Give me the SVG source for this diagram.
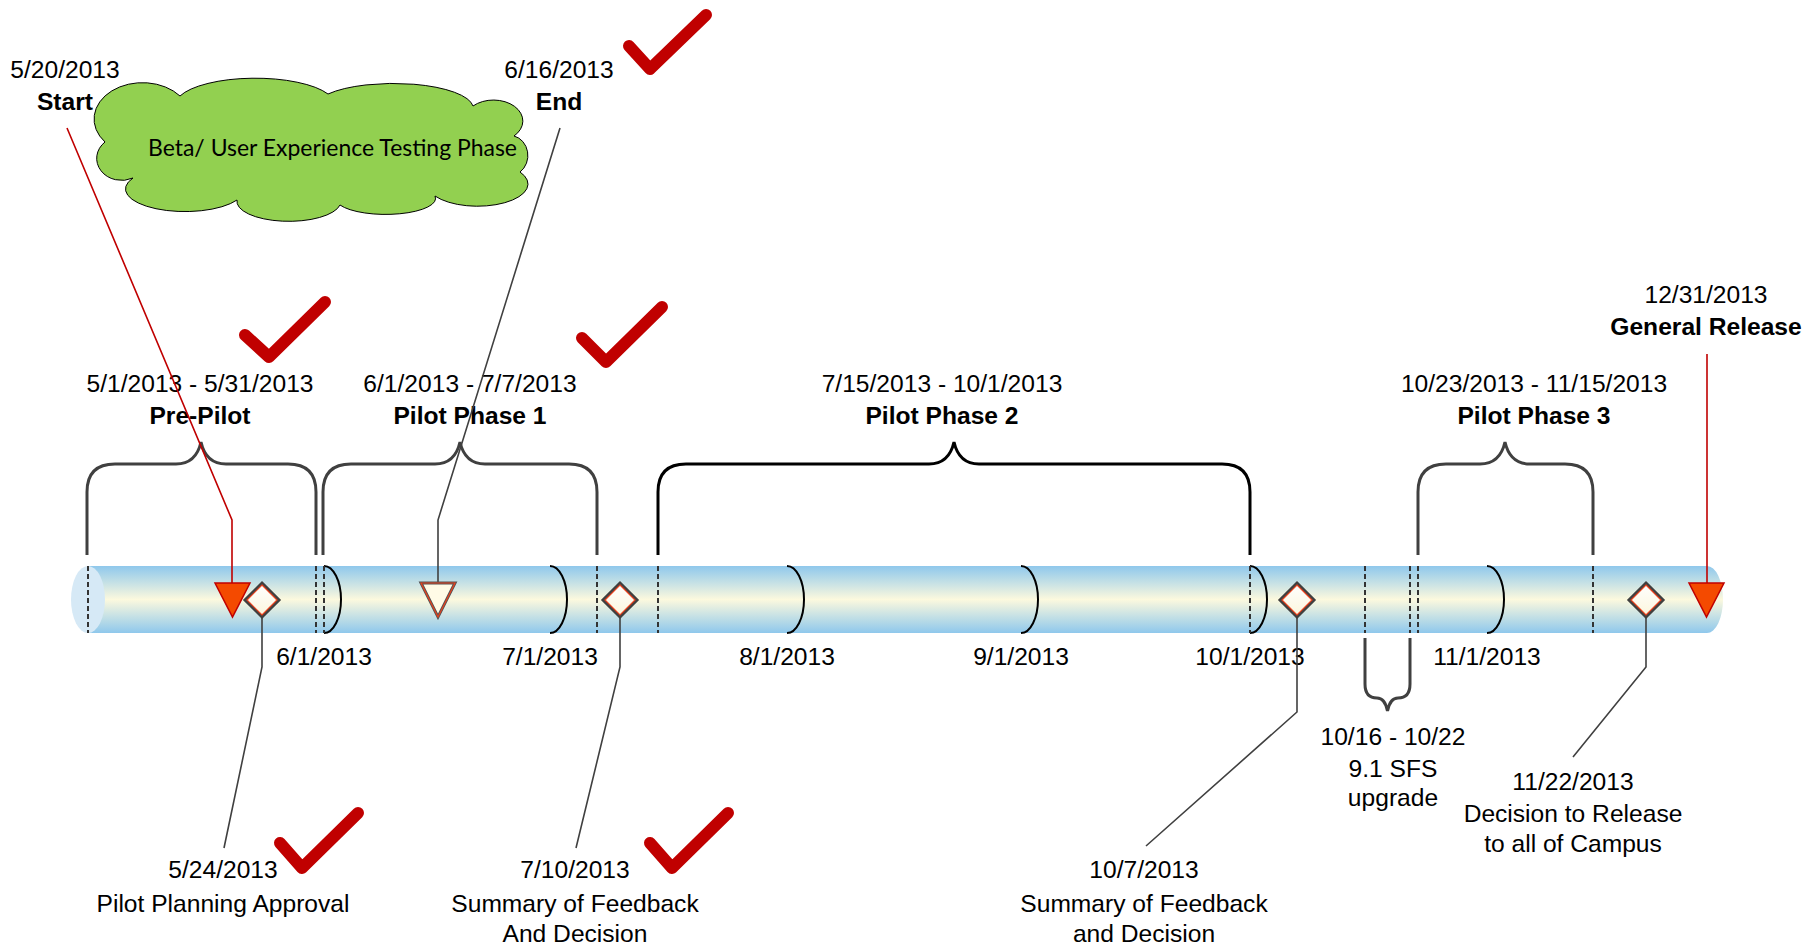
<svg xmlns="http://www.w3.org/2000/svg" width="1820" height="945" viewBox="0 0 1820 945">
<defs>
<linearGradient id="barGrad" x1="0" y1="0" x2="0" y2="1">
<stop offset="0" stop-color="#8fc8ec"/>
<stop offset="0.5" stop-color="#fcf9de"/>
<stop offset="1" stop-color="#8fc8ec"/>
</linearGradient>
<linearGradient id="diaGrad" x1="0" y1="0" x2="0" y2="1">
<stop offset="0" stop-color="#ffffff"/>
<stop offset="1" stop-color="#fbf6dc"/>
</linearGradient>
</defs>
<style>
text{font-family:"Liberation Sans",Arial,sans-serif;font-size:24.6px;fill:#000;text-anchor:middle}
.b{font-weight:bold}
.cloudtxt{font-family:Lato,"Open Sans",sans-serif;font-size:22.5px;text-anchor:start}
.brace{fill:none;stroke:#404040;stroke-width:3}
.brace2{fill:none;stroke:#000;stroke-width:3}
.dash{stroke:#333;stroke-width:2;stroke-dasharray:5 3;fill:none}
.month{fill:none;stroke:#000;stroke-width:2}
.lead{fill:none;stroke:#404040;stroke-width:1.6}
.leadr{fill:none;stroke:#c00000;stroke-width:1.6}
.check{fill:none;stroke:#c00000;stroke-width:12;stroke-linecap:round;stroke-linejoin:round}
.dia{fill:url(#diaGrad);stroke:#404040;stroke-width:3}
.diain{fill:none;stroke:#e8401c;stroke-width:1.2}
.tri{fill:#f44a00;stroke:#c00000;stroke-width:1.5}
</style>

<g id="cloud">
<path d="M105 142 A48 36 0 0 1 180 96 A80 27 0 0 1 328 94 A80 25 0 0 1 473 106 A28 20 0 0 1 514 136 A18 20 0 0 1 520 172 A50 22 0 0 1 435 196 A50 16 0 0 1 340 205 A52 20 0 0 1 237 200 A58 22 0 0 1 133 178 A25 22 0 0 1 105 142 Z" fill="#92d050" stroke="#000" stroke-width="1"/>
<text class="cloudtxt" x="148" y="156" textLength="369" lengthAdjust="spacingAndGlyphs">Beta/ User Experience Testing Phase</text>
</g>

<g id="timeline-bar">
<path d="M88 566 H1707 A16 33.5 0 0 1 1707 633 H88 Z" fill="url(#barGrad)"/>
<ellipse cx="88" cy="599.5" rx="17" ry="33.5" fill="#d6e9f6"/>
<line class="dash" x1="88" y1="566" x2="88" y2="633"/>
</g>

<g id="month-dividers">
<path class="month" d="M324 566 A17 33.5 0 0 1 324 633"/>
<path class="month" d="M550 566 A17 33.5 0 0 1 550 633"/>
<path class="month" d="M787 566 A17 33.5 0 0 1 787 633"/>
<path class="month" d="M1021 566 A17 33.5 0 0 1 1021 633"/>
<path class="month" d="M1250 566 A17 33.5 0 0 1 1250 633"/>
<path class="month" d="M1487 566 A17 33.5 0 0 1 1487 633"/>
<text x="324" y="665">6/1/2013</text>
<text x="550" y="665">7/1/2013</text>
<text x="787" y="665">8/1/2013</text>
<text x="1021" y="665">9/1/2013</text>
<text x="1250" y="665">10/1/2013</text>
<text x="1487" y="665">11/1/2013</text>
</g>

<g id="phase-dividers">
<line class="dash" x1="316" y1="566" x2="316" y2="633"/>
<line class="dash" x1="324" y1="566" x2="324" y2="633"/>
<line class="dash" x1="597" y1="566" x2="597" y2="633"/>
<line class="dash" x1="658" y1="566" x2="658" y2="633"/>
<line class="dash" x1="1250" y1="566" x2="1250" y2="633"/>
<line class="dash" x1="1365" y1="566" x2="1365" y2="633"/>
<line class="dash" x1="1410" y1="566" x2="1410" y2="633"/>
<line class="dash" x1="1418" y1="566" x2="1418" y2="633"/>
<line class="dash" x1="1593" y1="566" x2="1593" y2="633"/>
</g>

<g id="pre-pilot">
<path class="brace" d="M87 555 V492 Q87 464 115 464 H176 Q196 464 201 442 Q206 464 226 464 H288 Q316 464 316 492 V555"/>
<text x="200" y="392">5/1/2013 - 5/31/2013</text>
<text class="b" x="200" y="424">Pre-Pilot</text>
</g>

<g id="pilot-phase-1">
<path class="brace" d="M323 555 V492 Q323 464 351 464 H435 Q455 464 460 442 Q465 464 485 464 H569 Q597 464 597 492 V555"/>
<text x="470" y="392">6/1/2013 - 7/7/2013</text>
<text class="b" x="470" y="424">Pilot Phase 1</text>
</g>

<g id="pilot-phase-2">
<path class="brace2" d="M658 555 V492 Q658 464 686 464 H929 Q949 464 954 442 Q959 464 979 464 H1222 Q1250 464 1250 492 V555"/>
<text x="942" y="392">7/15/2013 - 10/1/2013</text>
<text class="b" x="942" y="424">Pilot Phase 2</text>
</g>

<g id="pilot-phase-3">
<path class="brace" d="M1418 555 V492 Q1418 464 1446 464 H1480 Q1500 464 1505 442 Q1510 464 1530 464 H1565 Q1593 464 1593 492 V555"/>
<text x="1534" y="392">10/23/2013 - 11/15/2013</text>
<text class="b" x="1534" y="424">Pilot Phase 3</text>
</g>

<g id="sfs-upgrade">
<path class="brace" d="M1365 638 V684 Q1365 698 1377 698 Q1385 698 1387.5 711 Q1390 698 1398 698 Q1410 698 1410 684 V638"/>
<text x="1393" y="745">10/16 - 10/22</text>
<text x="1393" y="777">9.1 SFS</text>
<text x="1393" y="806">upgrade</text>
</g>

<g id="connectors">
<polyline class="leadr" points="67,128 232,520 232,583"/>
<polyline class="lead" points="560,128 438,520 438,583"/>
<polyline class="lead" points="262,617 262,667 224,848"/>
<polyline class="lead" points="620,617 620,667 576,848"/>
<polyline class="lead" points="1297,617 1297,712 1146,846"/>
<polyline class="lead" points="1646,617 1646,667 1573,757"/>
<line class="leadr" x1="1707" y1="354" x2="1707" y2="583"/>
</g>

<g id="start">
<polygon class="tri" points="215,583 250,583 232.5,617"/>
<text x="65" y="78">5/20/2013</text>
<text class="b" x="65" y="110">Start</text>
</g>

<g id="end">
<polygon points="421,583 455,583 438,617" fill="#fffbe6" stroke="#555" stroke-width="3"/>
<polygon points="421,583 455,583 438,617" fill="none" stroke="#e8401c" stroke-width="1.2"/>
<text x="559" y="78">6/16/2013</text>
<text class="b" x="559" y="110">End</text>
</g>

<g id="pilot-planning-approval">
<polygon class="dia" points="262,583 279,600 262,617 245,600"/>
<polygon class="diain" points="262,585 277,600 262,615 247,600"/>
<text x="223" y="878">5/24/2013</text>
<text x="223" y="912">Pilot Planning Approval</text>
</g>

<g id="feedback-1">
<polygon class="dia" points="620,583 637,600 620,617 603,600"/>
<polygon class="diain" points="620,585 635,600 620,615 605,600"/>
<text x="575" y="878">7/10/2013</text>
<text x="575" y="912">Summary of Feedback</text>
<text x="575" y="942">And Decision</text>
</g>

<g id="feedback-2">
<polygon class="dia" points="1297,583 1314,600 1297,617 1280,600"/>
<polygon class="diain" points="1297,585 1312,600 1297,615 1282,600"/>
<text x="1144" y="878">10/7/2013</text>
<text x="1144" y="912">Summary of Feedback</text>
<text x="1144" y="942">and Decision</text>
</g>

<g id="decision-release">
<polygon class="dia" points="1646,583 1663,600 1646,617 1629,600"/>
<polygon class="diain" points="1646,585 1661,600 1646,615 1631,600"/>
<text x="1573" y="790">11/22/2013</text>
<text x="1573" y="822">Decision to Release</text>
<text x="1573" y="852">to all of Campus</text>
</g>

<g id="general-release">
<polygon class="tri" points="1689,583 1724,583 1706.5,617"/>
<text x="1706" y="303">12/31/2013</text>
<text class="b" x="1706" y="335">General Release</text>
</g>

<g id="checkmarks">
<path class="check" d="M629 46 L650 69 L706 15"/>
<path class="check" d="M245 335 L269 357 L325 302"/>
<path class="check" d="M582 338 L606 362 L662 307"/>
<path class="check" d="M280 843 L302 868 L358 813"/>
<path class="check" d="M650 843 L672 868 L728 813"/>
</g>
</svg>
